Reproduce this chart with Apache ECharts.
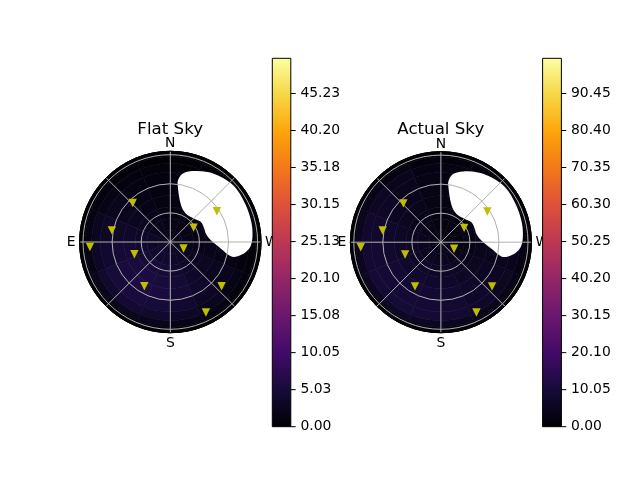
<!DOCTYPE html>
<html><head><meta charset="utf-8">
<script src="https://cdn.jsdelivr.net/npm/echarts@6/dist/echarts.min.js"></script>
<style>html,body{margin:0;padding:0;background:#fff}#c{width:640px;height:480px}</style>
</head><body><div id="c"></div>
<script>
// ---------------- data ----------------
const TITLES = ['Flat Sky', 'Actual Sky'];
const COMPASS_AZ = [0, 90, 180, 270];
const COMPASS_LABELS = ['N', 'E', 'S', 'W'];
const RING_MAX = 93.5;

// station markers (azimuth deg from N toward E, zenith distance)
const STATION_AZ = [44.0, 78.7, 93.6, 108.9, 149.6, 243.6, 301.7, 303.4, 229.2, 206.8];
const STATION_R  = [55.8, 61.4, 83.0, 39.1, 52.9, 15.2, 28.2, 57.5, 69.8, 81.4];

// masked (blank) region outline
const MASK_AZ = [352.5, 352.9, 343.7, 331.0, 314.2, 303.1, 291.4, 283.1, 272.4, 262.5, 256.7, 258.0,
                 262.5, 267.7, 275.8, 285.0, 295.9, 307.5, 315.5, 324.7, 332.0, 342.6, 349.8];
const MASK_R  = [65.7, 60.5, 39.4, 33.3, 34.4, 37.7, 37.6, 37.7, 41.9, 52.7, 64.2, 70.9,
                 78.6, 83.2, 85.2, 86.1, 86.6, 87.4, 86.6, 84.2, 81.7, 76.6, 71.5];

// sky brightness grid: radial bins (edges) x 16 azimuth bins of 22.5 deg starting at N
const R_EDGES = [0, 12, 24, 36, 48, 60, 72, 81, 88, 93.5];
const FLAT_SKY = [
  [2.0,2.2,2.5,2.8,3.1,3.3,3.4,3.3,3.1,2.8,2.5,2.2,2.0,1.9,1.9,1.9],
  [1.7,2.1,2.6,3.1,3.6,4.0,4.1,4.0,3.6,3.1,2.6,2.1,1.8,1.6,1.5,1.6],
  [1.5,1.9,2.6,3.4,4.2,4.8,5.0,4.8,4.2,3.4,2.7,2.0,1.6,1.4,1.4,1.4],
  [1.3,1.8,2.6,3.6,4.6,5.4,5.7,5.4,4.6,3.6,2.7,2.0,1.5,1.3,1.2,1.2],
  [1.2,1.6,2.4,3.5,4.6,5.4,5.8,5.5,4.6,3.6,2.6,1.8,1.3,1.1,1.1,1.1],
  [1.0,1.4,2.1,3.1,4.2,5.0,5.3,5.0,4.2,3.2,2.3,1.5,1.1,0.9,0.9,0.9],
  [0.8,1.1,1.7,2.5,3.4,4.0,4.3,4.0,3.3,2.5,1.7,1.1,0.8,0.7,0.7,0.7],
  [0.4,0.6,0.9,1.4,1.9,2.2,2.4,2.2,1.8,1.4,0.9,0.6,0.4,0.4,0.4,0.4],
  [0.1,0.1,0.1,0.1,0.1,0.1,0.1,0.1,0.1,0.1,0.1,0.1,0.1,0.1,0.1,0.1]
];
const ACTUAL_SKY = [
  [2.6,2.8,3.0,3.3,3.6,3.8,3.9,3.8,3.6,3.3,3.0,2.7,2.5,2.4,2.4,2.5],
  [2.8,3.3,3.9,4.5,5.0,5.3,5.4,5.3,5.0,4.5,3.9,3.3,2.9,2.6,2.5,2.6],
  [3.0,3.8,4.7,5.6,6.3,6.7,6.9,6.8,6.3,5.6,4.7,3.8,3.2,2.8,2.7,2.8],
  [3.2,4.2,5.4,6.5,7.3,7.8,8.0,7.8,7.3,6.4,5.3,4.3,3.5,3.0,2.8,2.9],
  [3.3,4.5,5.9,7.1,8.0,8.6,8.8,8.6,8.0,7.0,5.8,4.6,3.7,3.1,2.9,3.0],
  [3.3,4.7,6.2,7.5,8.5,9.2,9.4,9.2,8.5,7.4,6.1,4.8,3.8,3.2,2.9,3.0],
  [3.0,4.5,6.1,7.5,8.6,9.3,9.6,9.4,8.6,7.4,6.0,4.6,3.5,2.9,2.6,2.7],
  [1.8,2.8,3.9,4.9,5.6,6.1,6.3,6.1,5.6,4.8,3.9,3.0,2.3,1.9,1.7,1.7],
  [0.3,0.3,0.3,0.3,0.3,0.3,0.3,0.3,0.3,0.3,0.3,0.3,0.3,0.3,0.3,0.3]
];

// colorbars
const CB1_MAX = 50.0;
const CB1_TICKS  = [0, 5.025, 10.05, 15.075, 20.10, 25.125, 30.15, 35.175, 40.20, 45.225];
const CB1_LABELS = ['0.00','5.03','10.05','15.08','20.10','25.13','30.15','35.18','40.20','45.23'];
const CB2_MAX = 100.0;
const CB2_TICKS  = [0, 10.05, 20.10, 30.15, 40.20, 50.25, 60.30, 70.35, 80.40, 90.45];
const CB2_LABELS = ['0.00','10.05','20.10','30.15','40.20','50.25','60.30','70.35','80.40','90.45'];

// ---------------- styling / build ----------------
const INFERNO = ['#000004','#160b39','#420a68','#6a176e','#932667','#bc3754',
                 '#dd513a','#f37819','#fca50a','#f6d746','#fcffa4'];
const FONT = 'DejaVu Sans';
const AZ_STEP = 360 / FLAT_SKY[0].length;
const GRID_GREY = '#b0b0b0';
const TICK_LEN = 4.9;

function cells(rows) {
  const out = [];
  rows.forEach((row, i) => row.forEach((v, j) => out.push([i, j, v])));
  return out;
}
function heatRender(params, api) {
  const ri = api.value(0), aj = api.value(1);
  const r0 = R_EDGES[ri], r1 = R_EDGES[ri + 1];
  const a0 = aj * AZ_STEP, a1 = a0 + AZ_STEP;
  const n = 10, pts = [];
  for (let k = 0; k <= n; k++) pts.push(api.coord([r1, a0 + (a1 - a0) * k / n]));
  for (let k = n; k >= 0; k--) pts.push(api.coord([r0, a0 + (a1 - a0) * k / n]));
  const c = api.visual('color');
  return { type: 'polygon', shape: { points: pts }, style: { fill: c, stroke: c, lineWidth: 0.6 } };
}
function maskRender(params, api) {
  const pts = MASK_R.map((r, i) => api.coord([r, MASK_AZ[i]]));
  return { type: 'polygon', shape: { points: pts, smooth: 0.35 }, style: { fill: '#ffffff' } };
}
function makeCbRender(ticks) {
  return function (params, api) {
    const p0 = api.coord([0, 0]);
    const p1 = api.coord([api.value(0), api.value(1)]);
    const stops = INFERNO.map((c, i) => ({ offset: i / (INFERNO.length - 1), color: c }));
    const children = [{
      type: 'rect',
      shape: { x: p0[0], y: p1[1], width: p1[0] - p0[0], height: p0[1] - p1[1] },
      style: { fill: new echarts.graphic.LinearGradient(0, 1, 0, 0, stops), stroke: '#000', lineWidth: 1 }
    }];
    ticks.forEach(t => {
      const p = api.coord([api.value(0), t]);
      children.push({ type: 'line', shape: { x1: p[0], y1: p[1], x2: p[0] + TICK_LEN, y2: p[1] },
        style: { stroke: '#000', lineWidth: 1 } });
    });
    return { type: 'group', children };
  };
}
function compassLabel(v) {
  const i = COMPASS_AZ.indexOf(v);
  if (i < 0) return '';
  return i === 0 ? '{n|' + COMPASS_LABELS[i] + '}' : COMPASS_LABELS[i];
}
function tickLabeler(ticks, labels) {
  return v => {
    const i = ticks.findIndex(t => Math.abs(t - v) < 1e-6);
    return i >= 0 ? labels[i] : '';
  };
}
const labelStyle = { fontFamily: FONT, fontSize: 13.9, color: '#000' };
const stations = STATION_R.map((r, i) => [r, STATION_AZ[i]]);

function angleAxis(idx) {
  return {
    polarIndex: idx, type: 'value', min: 0, max: 360, interval: 45,
    startAngle: 90, clockwise: false, z: 5,
    axisLine: { show: true, lineStyle: { color: '#000', width: 1 } },
    axisTick: { show: false },
    axisLabel: Object.assign({
      margin: 4, formatter: compassLabel,
      rich: { n: { fontFamily: FONT, fontSize: 13.9, color: '#000', lineHeight: 7 } }
    }, labelStyle),
    splitLine: { show: true, lineStyle: { color: GRID_GREY, width: 1 } }
  };
}
function radiusAxis(idx) {
  return {
    polarIndex: idx, type: 'value', min: 0, max: RING_MAX, interval: 30, z: 5,
    axisLine: { show: false }, axisTick: { show: false }, axisLabel: { show: false },
    splitLine: { show: true, lineStyle: { color: [GRID_GREY, GRID_GREY, GRID_GREY, GRID_GREY, '#000000'], width: 1 } }
  };
}
function cbAxes(gi, max, ticks, labels) {
  return {
    x: { gridIndex: gi, type: 'value', min: 0, max: 1, show: false },
    y: {
      gridIndex: gi, type: 'value', min: 0, max: max, interval: ticks[1], position: 'right', z: 10,
      axisLine: { show: false }, splitLine: { show: false }, axisTick: { show: false },
      axisLabel: Object.assign({ margin: 9.6, customValues: ticks, formatter: tickLabeler(ticks, labels) }, labelStyle)
    }
  };
}
const cb1 = cbAxes(0, CB1_MAX, CB1_TICKS, CB1_LABELS);
const cb2 = cbAxes(1, CB2_MAX, CB2_TICKS, CB2_LABELS);

const option = {
  animation: false,
  backgroundColor: '#ffffff',
  polar: [
    { center: [170.3, 242], radius: 90.7 },
    { center: [440.9, 242.2], radius: 90.5 }
  ],
  angleAxis: [angleAxis(0), angleAxis(1)],
  radiusAxis: [radiusAxis(0), radiusAxis(1)],
  grid: [
    { left: 272.3, top: 58.3, width: 18.5, height: 368.4, outerBoundsMode: 'none', containLabel: false },
    { left: 542.6, top: 58.3, width: 18.8, height: 368.4, outerBoundsMode: 'none', containLabel: false }
  ],
  xAxis: [cb1.x, cb2.x],
  yAxis: [cb1.y, cb2.y],
  visualMap: [
    { show: false, type: 'continuous', seriesIndex: 0, dimension: 2, min: 0, max: CB1_MAX, inRange: { color: INFERNO } },
    { show: false, type: 'continuous', seriesIndex: 3, dimension: 2, min: 0, max: CB2_MAX, inRange: { color: INFERNO } }
  ],
  graphic: [
    { type: 'text', x: 170.2, y: 129.6, z: 10,
      style: { text: TITLES[0], font: '16.67px "DejaVu Sans"', fill: '#000', align: 'center', verticalAlign: 'middle', textAlign: 'center', textVerticalAlign: 'middle' } },
    { type: 'text', x: 440.8, y: 129.6, z: 10,
      style: { text: TITLES[1], font: '16.67px "DejaVu Sans"', fill: '#000', align: 'center', verticalAlign: 'middle', textAlign: 'center', textVerticalAlign: 'middle' } }
  ],
  series: [
    { type: 'custom', coordinateSystem: 'polar', polarIndex: 0, z: 1, silent: true, renderItem: heatRender, data: cells(FLAT_SKY) },
    { type: 'custom', coordinateSystem: 'polar', polarIndex: 0, z: 2, silent: true, renderItem: maskRender, data: [[0, 0]] },
    { type: 'scatter', coordinateSystem: 'polar', polarIndex: 0, z: 8, symbol: 'triangle', symbolRotate: 180, symbolSize: 8.4,
      itemStyle: { color: '#bfbf00', opacity: 1 }, data: stations },
    { type: 'custom', coordinateSystem: 'polar', polarIndex: 1, z: 1, silent: true, renderItem: heatRender, data: cells(ACTUAL_SKY) },
    { type: 'custom', coordinateSystem: 'polar', polarIndex: 1, z: 2, silent: true, renderItem: maskRender, data: [[0, 0]] },
    { type: 'scatter', coordinateSystem: 'polar', polarIndex: 1, z: 8, symbol: 'triangle', symbolRotate: 180, symbolSize: 8.4,
      itemStyle: { color: '#bfbf00', opacity: 1 }, data: stations },
    { type: 'custom', xAxisIndex: 0, yAxisIndex: 0, z: 9, clip: false, silent: true, renderItem: makeCbRender(CB1_TICKS), data: [[1, CB1_MAX]] },
    { type: 'custom', xAxisIndex: 1, yAxisIndex: 1, z: 9, clip: false, silent: true, renderItem: makeCbRender(CB2_TICKS), data: [[1, CB2_MAX]] }
  ]
};
const chart = echarts.init(document.getElementById('c'), null, { renderer: 'canvas' });
chart.setOption(option);
</script></body></html>
